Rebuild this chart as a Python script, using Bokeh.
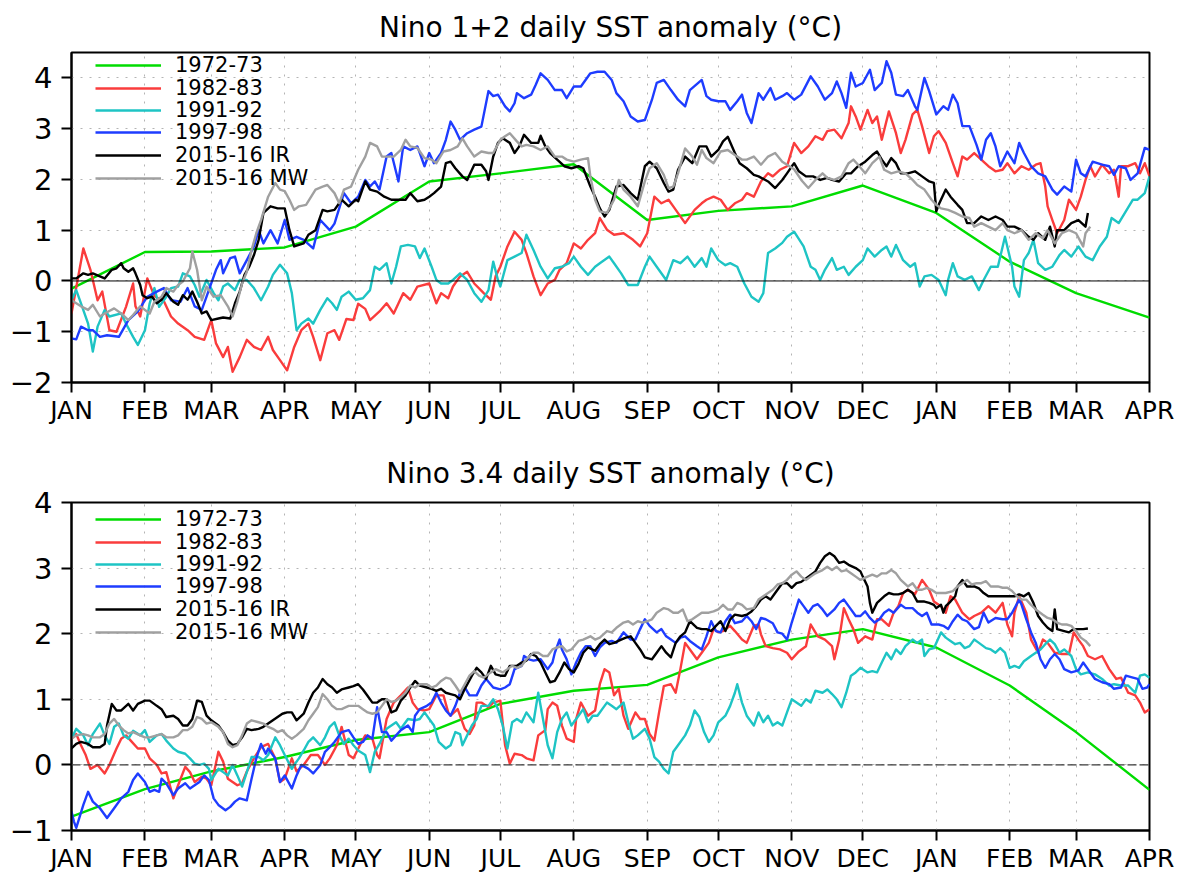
from bokeh.plotting import figure
from bokeh.models import (ColumnDataSource, FixedTicker, Span, Legend, LegendItem, Range1d)
from bokeh.layouts import column
from bokeh.embed import file_html
from bokeh.resources import INLINE

# ---------------- axis data ----------------
MONTH_DAYS = [0, 31, 59, 90, 120, 151, 181, 212, 243, 273, 304, 334, 365, 396, 424, 455]
MONTH_LABELS = ["JAN", "FEB", "MAR", "APR", "MAY", "JUN", "JUL", "AUG", "SEP", "OCT",
                "NOV", "DEC", "JAN", "FEB", "MAR", "APR"]
SERIES_NAMES = ["1972-73", "1982-83", "1991-92", "1997-98", "2015-16 IR", "2015-16 MW"]
SERIES_COLORS = ["#00dc00", "#fa3c3c", "#1ec4c4", "#1e3cff", "#000000", "#a0a0a0"]

TITLE_12 = "Nino 1+2 daily SST anomaly (°C)"
TITLE_34 = "Nino 3.4 daily SST anomaly (°C)"

# ---------------- Nino 1+2 (day since Jan 1, anomaly) ----------------
N12_1972 = [(0, -0.15), (31, 0.57), (59, 0.58), (90, 0.66), (120, 1.07), (151, 1.96), (181, 2.12),
            (212, 2.30), (243, 1.20), (273, 1.38), (304, 1.47), (334, 1.88), (365, 1.34), (396, 0.38),
            (424, -0.24), (455, -0.72)]
N12_1982 = [(0,-0.64),(5,0.64),(8,0.22),(11,-0.38),(13,-0.21),(16,-0.97),(19,-1.0),(23,-0.51),(26,-0.05),
            (27,-0.5),(29,-0.7),(32,0.05),(35,-0.3),(39,-0.4),(42,-0.7),(45,-0.84),(49,-0.97),(52,-1.1),
            (56,-1.16),(59,-0.77),(61,-1.23),(64,-1.5),(66,-1.3),(68,-1.79),(71,-1.5),(74,-1.16),(77,-1.3),
            (80,-1.36),(83,-1.1),(85,-1.36),(88,-1.56),(91,-1.76),(94,-1.3),(97,-0.97),(100,-0.84),(102,-1.1),
            (105,-1.56),(108,-1.03),(111,-0.97),(113,-1.16),(116,-0.75),(119,-0.77),(121,-0.45),(124,-0.55),
            (126,-0.77),(130,-0.6),(133,-0.44),(136,-0.64),(140,-0.24),(143,-0.37),(146,-0.11),(151,-0.05),
            (154,-0.44),(156,-0.24),(159,-0.34),(161,-0.11),(164,0.09),(167,0.18),(170,-0.05),(174,-0.24),
            (177,-0.37),(179,0.09),(181,0.28),(184,0.68),(187,0.97),(190,0.81),(192,0.55),(195,0.09),
            (198,-0.28),(201,-0.05),(204,0.02),(206,0.22),(209,0.35),(212,0.74),(215,0.64),(218,0.81),
            (221,0.94),(223,1.24),(226,1.01),(229,0.91),(233,0.94),(237,0.81),(240,0.68),(243,0.94),
            (246,1.66),(249,1.53),(252,1.6),(254,1.47),(259,1.14),(263,1.4),(266,1.53),(268,1.6),(271,1.66),
            (274,1.6),(277,1.4),(280,1.53),(283,1.6),(285,1.73),(288,1.66),(291,1.96),(294,2.12),(296,2.06),
            (299,2.19),(302,2.26),(305,2.72),(308,2.52),(311,2.65),(314,2.85),(317,2.78),(319,2.95),
            (322,2.98),(325,2.81),(328,3.11),(329,3.44),(331,3.24),(333,2.98),(336,3.37),(338,3.11),
            (340,3.24),(342,2.78),(345,3.34),(348,2.91),(350,2.52),(352,2.78),(355,3.28),(357,3.37),
            (359,3.05),(362,2.52),(364,2.85),(366,2.95),(369,2.72),(372,2.32),(374,2.06),(376,2.45),
            (378,2.39),(381,2.52),(384,2.39),(387,2.26),(390,2.16),(393,2.19),(395,2.32),(398,2.12),
            (401,2.26),(404,2.19),(407,2.29),(409,2.32),(411,1.86),(412,1.47),(414,1.2),(416,0.94),
            (419,1.2),(421,1.6),(424,1.4),(426,1.66),(428,1.99),(430,2.26),(432,2.06),(435,2.29),(438,2.12),
            (440,2.19),(442,1.66),(443,2.26),(446,2.26),(449,2.32),(451,2.12),(453,2.32),(455,2.06)]
N12_1991 = [(0,-0.38),(2,-0.18),(4,-0.44),(7,-0.84),(9,-1.39),(11,-0.9),(14,-0.57),(16,-0.7),(21,-0.64),
            (23,-0.84),(26,-1.1),(28,-1.26),(31,-0.97),(33,-0.44),(35,-0.14),(37,-0.51),(40,-0.31),(42,-0.14),
            (45,-0.11),(47,0.15),(50,0.09),(52,-0.08),(54,-0.31),(57,0.02),(60,-0.24),(62,-0.38),(64,-0.11),
            (66,-0.05),(69,-0.18),(71,0.02),(74,0.02),(77,-0.14),(80,-0.38),(83,-0.11),(85,0.12),(88,0.32),
            (91,0.15),(93,-0.24),(95,-0.97),(97,-0.84),(100,-0.74),(102,-0.84),(105,-0.57),(108,-0.34),
            (110,-0.44),(112,-0.57),(114,-0.31),(117,-0.21),(120,-0.37),(123,-0.34),(126,-0.18),(128,0.28),
            (130,0.22),(133,0.35),(135,-0.05),(137,0.28),(139,0.68),(142,0.71),(145,0.68),(147,0.45),
            (149,0.64),(152,0.28),(154,0.02),(156,-0.05),(159,-0.05),(161,0.02),(164,0.15),(167,0.02),
            (170,-0.24),(173,-0.41),(176,-0.18),(178,0.38),(180,0.02),(181,-0.11),(184,0.41),(187,0.48),
            (190,0.55),(192,0.91),(195,0.61),(198,0.28),(201,0.05),(204,0.25),(207,0.28),(210,0.35),
            (212,0.48),(215,0.28),(218,0.12),(221,0.28),(223,0.35),(227,0.48),(229,0.35),(232,0.15),
            (235,-0.08),(239,-0.08),(242,0.28),(244,0.48),(247,0.28),(251,0.02),(254,0.41),(257,0.35),
            (260,0.48),(263,0.28),(266,0.45),(268,0.28),(270,0.64),(273,0.41),(276,0.31),(278,0.35),
            (281,0.28),(284,-0.05),(287,-0.31),(290,-0.41),(292,-0.24),(294,0.55),(297,0.64),(300,0.75),
            (302,0.87),(305,0.97),(309,0.68),(312,0.28),(314,0.22),(316,0.02),(318,0.22),(321,0.45),
            (323,0.22),(326,0.28),(328,0.12),(331,0.28),(334,0.41),(336,0.64),(339,0.48),(342,0.61),
            (344,0.68),(346,0.48),(348,0.71),(351,0.41),(354,0.28),(356,0.35),(358,-0.11),(360,0.09),
            (363,0.12),(366,0.02),(369,-0.28),(370,0.02),(372,0.35),(374,0.09),(377,0.02),(380,0.09),
            (383,-0.18),(385,0.02),(388,0.28),(391,0.28),(394,0.87),(397,0.28),(398,-0.11),(400,-0.31),
            (402,0.41),(404,0.55),(406,0.81),(408,0.35),(411,0.22),(414,0.28),(417,0.51),(419,0.61),
            (422,0.48),(425,0.68),(428,0.48),(431,0.41),(434,0.68),(437,0.87),(439,1.24),(442,1.14),
            (445,1.37),(448,1.6),(450,1.6),(453,1.73),(455,2.06)]
N12_1997 = [(0,-1.13),(2,-1.15),(4,-0.9),(7,-0.97),(9,-0.97),(12,-1.1),(15,-1.07),(20,-1.1),(24,-0.77),
            (28,-0.6),(32,-0.31),(36,-0.21),(39,-0.14),(42,-0.38),(46,-0.41),(49,-0.14),(52,-0.5),(55,-0.57),
            (57,-0.31),(61,0.22),(63,0.41),(64,0.15),(67,0.45),(69,0.48),(71,0.15),(74,0.41),(77,0.68),
            (79,1.0),(81,0.74),(84,1.0),(87,0.74),(90,1.2),(92,0.81),(95,0.87),(98,0.81),(102,0.64),(105,1.2),
            (109,1.0),(111,1.13),(115,1.73),(118,1.53),(121,1.66),(124,1.99),(126,1.86),(128,1.96),(130,1.8),
            (133,2.45),(135,2.52),(138,1.96),(140,2.65),(143,2.58),(146,2.65),(149,2.26),(151,2.52),
            (153,2.32),(156,2.52),(158,2.78),(160,3.14),(162,2.98),(164,2.78),(167,2.91),(170,2.98),
            (173,3.04),(176,3.74),(178,3.64),(180,3.67),(183,3.44),(185,3.34),(187,3.5),(188,3.7),(191,3.6),
            (194,3.67),(196,3.87),(198,4.09),(201,3.96),(204,3.76),(207,3.76),(209,3.6),(212,3.83),
            (215,3.83),(219,4.09),(222,4.12),(225,4.12),(228,3.96),(230,3.7),(233,3.54),(236,3.24),
            (239,3.14),(242,3.17),(245,3.57),(247,3.9),(250,3.96),(253,3.76),(256,3.57),(259,3.44),
            (261,3.76),(266,3.96),(268,3.64),(270,3.57),(273,3.54),(276,3.54),(278,3.37),(281,3.54),
            (283,3.67),(285,3.31),(287,3.11),(290,3.7),(292,3.57),(295,3.8),(297,3.57),(300,3.64),
            (302,3.7),(305,3.57),(308,3.67),(312,4.03),(315,3.83),(318,3.57),(321,3.7),(323,3.93),(325,3.7),
            (327,3.41),(329,4.1),(331,3.83),(334,3.9),(337,4.16),(339,3.76),(342,3.9),(344,4.33),(346,4.1),
            (348,3.67),(351,3.64),(353,3.76),(356,3.44),(357,3.37),(360,4.0),(362,3.74),(365,3.28),
            (368,3.44),(370,3.37),(372,3.67),(374,3.5),(376,3.05),(379,3.05),(382,2.68),(384,2.39),
            (386,2.78),(388,2.91),(390,2.65),(392,2.26),(395,2.55),(398,2.32),(400,2.72),(402,2.52),
            (405,2.26),(408,2.12),(411,2.06),(414,1.8),(416,1.7),(419,1.86),(422,1.76),(424,2.39),
            (426,2.12),(428,2.06),(431,2.35),(435,2.29),(438,2.26),(440,2.09),(442,2.26),(445,2.22),
            (447,1.99),(450,2.12),(453,2.62),(455,2.58)]
N12_2015_IR = [(0,0.05),(2,0.05),(5,0.15),(7,0.12),(9,0.15),(12,0.09),(14,0.05),(17,0.22),(19,0.25),
            (21,0.35),(22,0.25),(24,0.18),(26,0.25),(27,0.15),(29,-0.08),(30,-0.28),(32,-0.34),(34,-0.31),
            (36,-0.44),(38,-0.37),(40,-0.24),(43,-0.41),(45,-0.47),(47,-0.28),(49,-0.37),(51,-0.21),
            (53,-0.41),(55,-0.64),(57,-0.6),(59,-0.77),(62,-0.74),(64,-0.72),(67,-0.74),(69,-0.44),
            (71,-0.21),(73,0.12),(75,0.28),(77,0.51),(79,0.81),(81,1.34),(84,1.47),(87,1.43),(90,1.43),
            (92,1.0),(94,0.68),(96,0.71),(98,0.74),(100,0.91),(103,1.0),(106,1.4),(108,1.37),(111,1.4),
            (114,1.6),(117,1.47),(120,1.6),(121,1.57),(124,1.96),(126,1.8),(129,1.76),(132,1.66),(135,1.6),
            (138,1.6),(141,1.6),(143,1.73),(146,1.57),(149,1.6),(151,1.66),(153,1.73),(156,1.86),(158,2.32),
            (160,2.35),(162,2.22),(165,2.06),(167,1.99),(170,2.29),(173,2.29),(175,2.16),(176,1.99),
            (178,2.45),(180,2.72),(182,2.81),(185,2.72),(187,2.52),(189,2.65),(191,2.88),(194,2.72),
            (197,2.72),(198,2.86),(200,2.65),(202,2.52),(205,2.39),(208,2.26),(211,2.22),(214,2.26),
            (216,2.22),(219,1.86),(221,1.66),(223,1.43),(225,1.27),(227,1.4),(230,1.86),(233,1.89),
            (236,1.73),(239,1.6),(242,2.26),(244,2.35),(247,2.22),(250,1.93),(252,1.76),(254,1.8),
            (256,2.19),(259,2.45),(262,2.32),(265,2.65),(268,2.65),(270,2.45),(273,2.58),(275,2.75),
            (277,2.84),(280,2.52),(282,2.32),(285,2.22),(288,2.09),(290,2.06),(294,1.96),(297,1.83),
            (300,1.99),(302,2.12),(305,2.32),(307,2.16),(310,2.06),(313,2.06),(316,1.99),(319,2.03),
            (321,1.99),(324,1.96),(327,2.12),(329,2.12),(332,2.26),(335,2.35),(338,2.48),(340,2.55),
            (342,2.39),(344,2.26),(346,2.42),(348,2.32),(350,2.12),(353,2.12),(356,2.16),(359,2.06),
            (362,1.96),(364,1.93),(365,1.37),(366,1.5),(369,1.8),(371,1.66),(374,1.5),(376,1.4),(378,1.14),
            (381,1.14),(384,1.27),(387,1.2),(390,1.27),(393,1.2),(395,1.07),(398,1.07),(401,1.0),(404,0.87),
            (406,0.81),(408,0.94),(411,0.81),(413,1.07),(415,0.68),(416,1.0),(419,1.0),(422,1.14),(425,1.2),
            (428,1.07),(429,1.34)]
N12_2015_MW = [(0,-0.38),(4,-0.5),(7,-0.57),(9,-0.47),(12,-0.7),(14,-0.64),(18,-0.54),(21,-0.64),
            (24,-0.77),(26,-0.67),(29,-0.5),(33,-0.64),(35,-0.41),(38,-0.31),(40,-0.14),(43,-0.21),(45,-0.08),
            (47,-0.01),(50,0.25),(51,0.58),(53,0.22),(55,-0.38),(57,-0.11),(60,-0.31),(63,-0.28),(66,-0.5),
            (68,-0.7),(70,-0.41),(72,-0.05),(74,0.18),(76,0.61),(78,0.94),(80,1.2),(83,1.66),(86,1.93),
            (88,1.8),(90,1.77),(92,1.6),(94,1.4),(96,1.47),(99,1.5),(103,1.8),(106,1.86),(108,1.89),
            (111,1.73),(113,1.53),(115,1.8),(118,1.86),(121,2.19),(124,2.45),(126,2.72),(129,2.65),
            (131,2.45),(133,2.45),(136,2.45),(139,2.58),(141,2.78),(143,2.65),(146,2.62),(149,2.42),
            (152,2.39),(154,2.32),(157,2.55),(160,2.58),(163,2.65),(165,2.81),(167,2.65),(170,2.45),
            (173,2.55),(176,2.52),(178,2.52),(181,2.78),(183,2.85),(185,2.91),(188,2.75),(190,2.65),
            (192,2.68),(195,2.65),(198,2.58),(201,2.65),(204,2.45),(207,2.45),(209,2.39),(212,2.35),
            (215,2.39),(218,2.42),(219,2.06),(221,1.6),(223,1.37),(226,1.34),(229,1.6),(231,1.99),(233,1.8),
            (236,1.66),(239,1.47),(242,1.96),(244,2.22),(247,2.32),(250,2.09),(252,1.83),(254,1.86),
            (256,2.12),(259,2.61),(262,2.45),(264,2.29),(266,2.58),(268,2.42),(271,2.32),(274,2.55),
            (277,2.58),(280,2.48),(283,2.39),(285,2.39),(288,2.45),(291,2.29),(294,2.45),(297,2.52),
            (300,2.35),(303,2.26),(305,2.2),(308,1.99),(311,1.83),(314,1.99),(317,2.12),(319,2.03),
            (322,1.99),(325,2.06),(328,2.32),(330,2.39),(332,2.29),(335,2.12),(338,2.32),(341,2.45),
            (343,2.19),(346,2.12),(349,2.16),(352,2.12),(355,1.99),(357,1.89),(360,1.8),(363,1.6),(365,1.5),
            (367,1.43),(370,1.4),(373,1.34),(376,1.27),(379,1.24),(381,1.07),(384,1.14),(387,1.07),
            (390,1.0),(393,1.14),(395,1.0),(398,0.94),(401,1.0),(404,0.81),(407,0.94),(410,0.84),(412,1.0),
            (415,0.74),(418,0.94),(421,1.0),(424,0.94),(427,0.68),(428,0.94),(430,1.07)]

# ---------------- Nino 3.4 (day since Jan 1, anomaly) ----------------
N34_1972 = [(0, -0.79), (31, -0.37), (59, -0.10), (90, 0.12), (120, 0.38), (151, 0.50), (181, 0.93),
            (212, 1.13), (243, 1.22), (273, 1.64), (304, 1.91), (334, 2.07), (365, 1.79), (396, 1.21),
            (424, 0.50), (455, -0.38)]
N34_1982 = [(0,0.4),(2,0.47),(4,0.3),(6,0.15),(8,-0.06),(11,0.0),(14,-0.13),(16,0.0),(19,0.25),(21,0.4),
            (23,0.45),(25,0.37),(28,0.25),(31,0.25),(33,0.1),(36,0.0),(38,-0.13),(40,-0.11),(43,-0.51),
            (45,-0.31),(48,-0.03),(50,-0.11),(52,-0.26),(55,-0.18),(57,-0.21),(59,-0.31),(62,0.2),(64,0.05),
            (66,-0.21),(68,-0.26),(70,-0.31),(72,-0.28),(74,-0.1),(77,0.1),(80,0.27),(83,0.32),(86,0.1),
            (88,-0.26),(90,-0.21),(93,0.1),(95,-0.1),(98,0.0),(101,0.15),(104,0.15),(107,0.0),(109,0.1),
            (112,0.3),(114,0.58),(117,0.15),(119,0.1),(122,0.32),(124,0.45),(127,0.4),(129,0.15),(130,0.1),
            (133,0.7),(136,0.95),(139,1.06),(142,1.18),(144,0.95),(146,0.85),(149,0.83),(151,0.85),
            (154,1.06),(157,1.06),(159,0.8),(160,0.75),(163,0.85),(166,0.55),(168,0.47),(170,0.6),(171,0.95),
            (173,0.95),(176,0.88),(178,0.95),(181,0.98),(183,0.3),(185,0.02),(187,0.17),(190,0.15),
            (192,0.1),(195,0.07),(197,0.45),(200,0.53),(201,0.85),(203,0.95),(205,0.9),(207,0.6),(209,0.4),
            (212,0.35),(213,0.7),(215,0.95),(218,0.75),(221,0.83),(223,1.23),(225,1.46),(227,1.41),
            (229,1.06),(231,1.16),(233,0.75),(235,0.55),(238,0.8),(240,0.7),(242,0.7),(244,0.47),(246,0.37),
            (248,0.8),(250,1.2),(253,1.23),(255,1.1),(257,1.46),(259,1.86),(262,1.71),(264,1.61),(266,1.71),
            (269,1.86),(271,2.07),(273,2.02),(275,2.04),(278,2.12),(280,2.04),(283,1.91),(285,1.86),
            (288,2.12),(290,2.14),(291,1.99),(293,1.81),(296,1.78),(299,1.76),(302,1.71),(304,1.61),
            (307,1.73),(310,1.81),(312,2.14),(315,1.96),(318,1.91),(321,1.81),(322,1.61),(324,1.91),
            (326,2.39),(328,2.22),(330,2.07),(332,1.86),(335,1.96),(338,1.91),(340,2.22),(342,2.22),
            (345,2.12),(347,2.32),(349,2.42),(351,2.62),(353,2.67),(356,2.6),(359,2.82),(362,2.67),
            (364,2.49),(367,2.42),(369,2.32),(371,2.57),(373,2.52),(376,2.32),(379,2.22),(381,2.27),
            (384,2.32),(387,2.42),(390,2.32),(393,2.47),(395,2.14),(397,1.96),(398,2.32),(400,2.57),
            (403,2.32),(405,1.91),(408,1.71),(410,1.91),(412,1.86),(415,1.71),(418,1.69),(421,1.69),
            (423,2.02),(425,1.91),(427,1.81),(429,1.66),(432,1.61),(435,1.66),(438,1.46),(441,1.31),
            (443,1.33),(446,1.1),(449,1.06),(451,0.95),(453,0.8),(455,0.85)]
N34_1991 = [(0,0.4),(2,0.55),(5,0.45),(7,0.3),(9,0.47),(12,0.63),(14,0.45),(16,0.32),(18,0.58),(20,0.63),
            (22,0.45),(24,0.4),(26,0.52),(29,0.45),(31,0.53),(33,0.35),(36,0.45),(38,0.47),(40,0.37),
            (43,0.25),(45,0.2),(48,0.17),(50,0.1),(52,0.02),(54,0.0),(56,0.02),(58,-0.06),(59,-0.23),
            (62,-0.06),(64,-0.11),(66,-0.16),(68,0.0),(70,-0.16),(72,-0.33),(74,-0.11),(76,0.12),(79,0.12),
            (81,0.07),(83,0.15),(86,0.42),(88,0.3),(90,0.15),(93,-0.06),(94,0.0),(96,0.1),(98,0.22),
            (100,0.35),(102,0.42),(105,0.3),(107,0.42),(109,0.58),(111,0.65),(113,0.45),(115,0.32),
            (117,0.4),(119,0.3),(121,0.22),(124,0.15),(126,-0.11),(128,0.2),(130,0.32),(133,0.55),
            (135,0.6),(137,0.65),(139,0.55),(142,0.7),(145,0.68),(147,0.7),(149,0.8),(151,0.7),(153,0.6),
            (155,0.35),(158,0.25),(160,0.3),(162,0.5),(164,0.47),(165,0.3),(167,0.45),(169,0.6),(171,0.7),
            (173,0.9),(176,0.9),(178,1.0),(180,0.85),(182,0.6),(184,0.25),(186,0.65),(188,0.7),(190,0.65),
            (192,0.8),(195,0.65),(197,1.1),(199,0.7),(201,0.3),(203,0.1),(205,0.5),(207,0.7),(209,0.8),
            (211,0.6),(214,0.75),(216,0.85),(218,0.65),(220,0.75),(222,0.75),(224,0.85),(226,0.95),
            (228,0.9),(230,0.85),(233,0.95),(235,0.65),(237,0.4),(239,0.45),(242,0.55),(244,0.4),(246,0.12),
            (248,0.05),(250,-0.06),(252,-0.13),(254,0.2),(257,0.35),(259,0.45),(261,0.6),(263,0.83),
            (265,0.73),(267,0.5),(269,0.35),(271,0.45),(273,0.65),(276,0.75),(278,0.9),(280,1.1),(281,1.23),
            (283,0.95),(285,0.75),(288,0.6),(290,0.8),(292,0.65),(294,0.75),(296,0.6),(298,0.65),(300,0.6),
            (302,0.8),(304,1.0),(306,0.95),(308,0.9),(310,1.0),(312,0.95),(314,1.13),(317,1.1),(319,1.15),
            (321,1.08),(323,1.0),(325,0.88),(327,1.1),(329,1.36),(331,1.41),(333,1.48),(336,1.41),
            (338,1.43),(340,1.41),(342,1.56),(344,1.71),(346,1.61),(348,1.76),(350,1.69),(352,1.81),
            (355,1.91),(357,1.86),(359,1.91),(360,1.66),(362,1.76),(364,1.78),(367,2.02),(369,1.94),
            (371,1.89),(373,1.84),(375,1.86),(377,1.78),(379,1.81),(381,1.91),(383,1.86),(386,1.78),
            (388,1.76),(390,1.71),(392,1.78),(394,1.71),(396,1.48),(398,1.51),(400,1.48),(402,1.58),
            (405,1.66),(407,1.71),(409,1.76),(411,1.84),(413,1.91),(415,1.84),(417,1.71),(419,1.76),
            (422,1.66),(424,1.46),(426,1.38),(429,1.41),(432,1.38),(435,1.31),(438,1.21),(440,1.23),
            (443,1.21),(446,1.21),(449,1.1),(451,1.36),(453,1.38),(455,1.33)]
N34_1997 = [(0,-0.71),(1,-0.86),(2,-0.96),(5,-0.61),(7,-0.41),(9,-0.56),(12,-0.66),(15,-0.81),(18,-0.66),
            (21,-0.51),(24,-0.41),(26,-0.23),(28,-0.13),(31,-0.26),(33,-0.41),(35,-0.38),(37,-0.41),
            (38,-0.21),(40,-0.28),(43,-0.46),(45,-0.36),(48,-0.28),(50,-0.36),(52,-0.31),(54,-0.26),
            (56,-0.16),(58,-0.23),(60,-0.51),(62,-0.61),(65,-0.69),(67,-0.64),(69,-0.56),(71,-0.51),
            (74,-0.54),(76,-0.21),(78,0.1),(80,0.32),(82,0.17),(83,0.25),(86,0.1),(88,-0.26),(90,-0.16),
            (93,-0.36),(95,-0.16),(97,0.0),(100,-0.06),(102,-0.13),(105,0.0),(107,0.2),(109,0.27),(111,0.35),
            (114,0.5),(117,0.53),(119,0.42),(121,0.32),(123,0.35),(125,0.45),(127,0.4),(129,0.88),(131,0.5),
            (133,0.5),(135,0.37),(137,0.45),(139,0.53),(142,0.6),(144,0.5),(145,0.75),(147,0.85),(150,0.9),
            (152,0.95),(154,1.1),(156,0.95),(158,0.83),(160,0.75),(162,0.9),(164,1.1),(166,1.18),(168,1.06),
            (171,1.06),(173,1.21),(175,1.31),(178,1.18),(181,1.15),(183,1.18),(185,1.23),(187,1.46),
            (190,1.51),(191,1.66),(193,1.61),(195,1.59),(198,1.61),(201,1.46),(203,1.56),(204,1.71),
            (206,1.91),(207,1.76),(209,1.61),(211,1.38),(213,1.56),(215,1.71),(217,1.81),(219,1.81),
            (221,1.66),(223,1.79),(225,1.86),(228,1.89),(230,1.86),(233,2.02),(236,1.91),(238,1.91),
            (240,2.07),(242,2.22),(244,2.12),(247,2.02),(249,2.07),(251,1.96),(253,1.91),(255,1.86),
            (257,1.94),(259,1.96),(261,1.89),(264,1.81),(266,1.76),(268,1.96),(270,2.19),(272,2.04),
            (274,2.02),(276,2.19),(278,2.29),(280,2.16),(283,2.19),(285,2.27),(287,2.19),(289,2.07),
            (291,2.24),(293,2.22),(296,2.16),(298,2.02),(300,2.0),(302,1.91),(304,2.17),(307,2.52),
            (309,2.42),(311,2.32),(313,2.42),(315,2.45),(317,2.37),(319,2.27),(322,2.37),(324,2.47),
            (326,2.52),(328,2.42),(331,2.27),(333,2.27),(335,2.34),(337,2.24),(339,2.17),(341,2.22),
            (343,2.32),(345,2.37),(347,2.32),(350,2.44),(352,2.39),(355,2.39),(357,2.32),(359,2.27),
            (361,2.32),(363,2.14),(366,2.14),(368,2.12),(370,2.07),(372,2.19),(374,2.29),(376,2.22),
            (378,2.19),(381,2.07),(383,2.1),(385,2.32),(387,2.17),(390,2.24),(393,2.22),(395,2.22),
            (397,2.32),(400,2.52),(401,2.44),(403,2.22),(405,2.02),(407,1.86),(409,1.61),(411,1.48),
            (413,1.61),(415,1.69),(417,1.61),(419,1.46),(422,1.41),(425,1.44),(427,1.56),(429,1.46),
            (432,1.31),(435,1.26),(438,1.23),(440,1.16),(443,1.18),(445,1.36),(448,1.33),(450,1.31),
            (452,1.16),(454,1.18),(455,1.23)]
N34_2015_IR = [(0,0.25),(2,0.32),(4,0.35),(7,0.32),(9,0.27),(12,0.27),(14,0.32),(15,0.6),(17,0.93),
            (19,0.83),(21,0.83),(24,0.93),(26,0.83),(28,0.93),(31,0.98),(33,0.98),(36,0.9),(38,0.85),
            (40,0.73),(43,0.75),(45,0.7),(47,0.6),(49,0.6),(51,0.7),(53,0.98),(55,0.96),(57,0.75),(59,0.68),
            (62,0.6),(64,0.5),(66,0.37),(68,0.3),(70,0.32),(72,0.42),(74,0.55),(76,0.53),(79,0.55),(81,0.58),
            (83,0.63),(85,0.68),(87,0.73),(89,0.78),(91,0.8),(93,0.8),(95,0.68),(98,0.78),(100,0.95),
            (102,1.1),(104,1.18),(106,1.31),(108,1.23),(110,1.18),(112,1.1),(114,1.15),(117,1.18),(119,1.2),
            (121,1.23),(123,1.15),(125,1.05),(127,0.95),(129,0.95),(131,1.0),(133,1.0),(135,0.8),(137,0.83),
            (139,0.98),(141,1.06),(143,1.18),(145,1.28),(147,1.21),(150,1.18),(152,1.16),(154,1.13),
            (156,1.16),(158,1.1),(160,1.08),(162,1.06),(164,1.0),(166,1.16),(169,1.36),(171,1.48),
            (173,1.41),(175,1.31),(177,1.51),(179,1.38),(181,1.36),(183,1.36),(185,1.51),(188,1.51),
            (190,1.56),(192,1.59),(194,1.69),(196,1.66),(198,1.56),(200,1.41),(202,1.26),(204,1.28),
            (206,1.41),(208,1.56),(210,1.46),(212,1.41),(214,1.54),(216,1.71),(218,1.79),(221,1.74),
            (223,1.84),(225,1.91),(227,1.84),(229,1.86),(232,1.91),(234,1.94),(236,1.96),(238,1.86),
            (240,1.76),(242,1.64),(245,1.61),(247,1.71),(249,1.81),(251,1.71),(253,1.64),(255,1.86),
            (257,1.96),(259,2.02),(261,2.19),(264,2.09),(266,2.07),(268,2.07),(270,2.04),(272,2.12),
            (274,2.19),(276,2.04),(278,2.22),(280,2.29),(283,2.27),(285,2.29),(287,2.34),(289,2.42),
            (291,2.52),(293,2.57),(295,2.52),(297,2.62),(300,2.77),(302,2.77),(304,2.7),(306,2.77),
            (308,2.79),(311,2.87),(314,2.95),(316,3.08),(318,3.18),(320,3.23),(322,3.18),(324,3.08),
            (326,3.1),(328,3.05),(331,3.0),(333,2.95),(334,2.87),(336,2.72),(337,2.47),(338,2.32),
            (340,2.47),(343,2.57),(345,2.62),(347,2.6),(349,2.6),(351,2.62),(353,2.67),(355,2.62),
            (357,2.49),(360,2.49),(362,2.47),(364,2.44),(365,2.39),(367,2.44),(368,2.32),(369,2.42),
            (371,2.49),(373,2.57),(374,2.72),(376,2.82),(378,2.72),(381,2.72),(383,2.69),(385,2.62),
            (387,2.57),(390,2.57),(393,2.57),(395,2.57),(398,2.57),(400,2.6),(402,2.57),(404,2.62),
            (406,2.47),(408,2.27),(410,2.17),(412,2.09),(414,2.04),(415,2.37),(416,2.07),(419,2.04),
            (421,2.02),(423,2.07),(425,2.07),(427,2.07),(429,2.08)]
N34_2015_MW = [(0,0.4),(2,0.45),(5,0.47),(7,0.45),(9,0.42),(12,0.42),(14,0.47),(16,0.63),(18,0.7),
            (20,0.6),(22,0.53),(24,0.48),(26,0.5),(29,0.45),(31,0.42),(33,0.42),(36,0.45),(38,0.47),(40,0.42),
            (43,0.42),(45,0.45),(47,0.53),(49,0.53),(51,0.58),(53,0.73),(55,0.7),(57,0.63),(59,0.65),
            (62,0.58),(64,0.5),(66,0.32),(68,0.27),(70,0.3),(72,0.45),(74,0.63),(76,0.68),(79,0.65),(81,0.63),
            (83,0.58),(85,0.55),(87,0.5),(89,0.53),(91,0.45),(93,0.4),(95,0.45),(98,0.55),(100,0.68),
            (102,0.78),(104,0.88),(106,1.08),(108,1.0),(110,0.9),(112,0.85),(114,0.85),(117,0.9),(119,0.9),
            (121,0.9),(123,0.85),(125,0.8),(127,0.78),(129,0.8),(131,0.9),(133,1.0),(135,0.96),(137,0.98),
            (139,1.03),(141,1.1),(143,1.21),(145,1.18),(147,1.23),(150,1.23),(152,1.18),(154,1.21),
            (156,1.28),(158,1.33),(160,1.31),(162,1.21),(164,1.1),(166,1.23),(168,1.36),(170,1.43),
            (172,1.36),(174,1.33),(177,1.41),(179,1.46),(182,1.41),(184,1.46),(186,1.51),(188,1.48),
            (190,1.51),(192,1.61),(195,1.71),(197,1.71),(199,1.66),(201,1.66),(203,1.76),(205,1.79),
            (207,1.81),(209,1.73),(211,1.76),(214,1.89),(216,1.91),(219,1.96),(221,1.91),(223,1.94),
            (226,2.04),(228,2.02),(230,2.09),(233,2.17),(235,2.19),(237,2.14),(239,2.19),(241,2.17),
            (243,2.19),(245,2.22),(247,2.32),(250,2.39),(252,2.37),(254,2.32),(256,2.32),(258,2.37),
            (260,2.19),(262,2.22),(264,2.27),(266,2.32),(269,2.32),(271,2.34),(273,2.37),(275,2.44),
            (277,2.37),(279,2.37),(281,2.47),(283,2.44),(285,2.37),(288,2.39),(290,2.52),(292,2.57),
            (294,2.62),(296,2.67),(298,2.75),(300,2.77),(302,2.82),(304,2.9),(306,2.95),(308,2.87),
            (310,2.82),(312,2.87),(314,2.92),(317,2.97),(319,3.02),(321,2.97),(323,3.02),(325,2.95),
            (327,2.97),(329,2.92),(331,2.87),(333,2.82),(336,2.87),(338,2.9),(340,2.87),(342,2.92),
            (344,2.92),(346,2.97),(348,2.92),(350,2.82),(353,2.72),(355,2.77),(357,2.67),(359,2.67),
            (361,2.7),(363,2.67),(365,2.62),(367,2.62),(369,2.62),(372,2.65),(374,2.72),(376,2.77),
            (378,2.82),(380,2.75),(382,2.77),(384,2.77),(386,2.8),(388,2.72),(391,2.72),(393,2.7),
            (395,2.7),(397,2.65),(399,2.57),(401,2.52),(403,2.52),(405,2.44),(407,2.37),(410,2.29),
            (412,2.24),(414,2.22),(416,2.17),(418,2.14),(420,2.14),(422,2.12),(424,2.04),(426,1.94),
            (428,1.89),(430,1.81)]

N12_SERIES = [N12_1972, N12_1982, N12_1991, N12_1997, N12_2015_IR, N12_2015_MW]
N34_SERIES = [N34_1972, N34_1982, N34_1991, N34_1997, N34_2015_IR, N34_2015_MW]

FONT = "DejaVu Sans"
GRID_COLOR = "#b4b4b4"
FRAME_H = 330          # plot-area height in px (both panels)
LEGEND_ROW_PITCH = 22.5
LEGEND_ITEM_H = 24


def make_panel(title, series, y0, y1, height, border_top, border_bottom, zero_dash,
               legend_first_row, title_standoff):
    p = figure(width=1181, height=height, x_range=Range1d(0, 455), y_range=Range1d(y0, y1),
               output_backend="svg", toolbar_location=None,
               min_border_left=71, min_border_right=32,
               min_border_top=border_top, min_border_bottom=border_bottom,
               background_fill_color="white", border_fill_color="white")
    p.outline_line_color = "black"
    p.outline_line_width = 2

    p.title.text = title
    p.title.text_font = FONT
    p.title.text_font_size = "28px"
    p.title.text_font_style = "normal"
    p.title.align = "center"
    p.title.text_color = "black"
    p.title.standoff = title_standoff

    xt = FixedTicker(ticks=MONTH_DAYS)
    p.xaxis.ticker = xt
    p.xaxis.major_label_overrides = {d: lab for d, lab in zip(MONTH_DAYS, MONTH_LABELS)}
    yt = FixedTicker(ticks=list(range(int(y0), int(y1) + 1)))
    p.yaxis.ticker = yt
    for ax in (p.xaxis, p.yaxis):
        ax.axis_line_width = 2
        ax.axis_line_color = "black"
        ax.major_tick_line_width = 2
        ax.major_tick_line_color = "black"
        ax.major_tick_out = 10
        ax.major_tick_in = 0
        ax.minor_tick_line_color = None
        ax.major_label_text_font = FONT
        ax.major_label_text_color = "black"
    p.xaxis.major_label_text_font_size = "25px"
    p.xaxis.major_label_standoff = 3
    p.yaxis.major_label_text_font_size = "29px"
    p.yaxis.major_label_standoff = 9

    p.xgrid.ticker = xt
    p.ygrid.ticker = yt
    for g in (p.xgrid, p.ygrid):
        g.grid_line_color = GRID_COLOR
        g.grid_line_dash = "2 7"
        g.grid_line_width = 1

    if zero_dash:
        p.add_layout(Span(location=0, dimension="width", line_color="#3a3a3a",
                          line_width=1.2, line_dash="9 3"))
    else:
        p.add_layout(Span(location=0, dimension="width", line_color="black", line_width=1))

    for i, (name, color, pts) in enumerate(zip(SERIES_NAMES, SERIES_COLORS, series)):
        src = ColumnDataSource(data=dict(day=[d for d, _ in pts], val=[v for _, v in pts]))
        r = p.line("day", "val", source=src, line_color=color, line_width=2.4,
                   line_join="round")
        # one legend entry per row so the row pitch can follow the original
        row_center = legend_first_row + LEGEND_ROW_PITCH * i
        vy = round(FRAME_H - (row_center - LEGEND_ITEM_H / 2) - LEGEND_ITEM_H)
        legend = Legend(items=[LegendItem(label=name, renderers=[r])], location=(24, vy),
                        glyph_width=66, glyph_height=20, label_height=20, spacing=0,
                        padding=0, margin=0, label_standoff=14,
                        border_line_alpha=0, background_fill_alpha=0,
                        label_text_font=FONT, label_text_font_size="21px",
                        label_text_color="black")
        p.add_layout(legend)
    return p


top = make_panel(TITLE_12, N12_SERIES, -2, 4.5, 440, 52, 58, False, 13, 17)
bottom = make_panel(TITLE_34, N34_SERIES, -1, 4, 435, 62, 43, True, 19, 25)

layout = column(top, bottom, spacing=0)
open("out.html", "w").write(file_html(layout, INLINE, title="Nino SST anomaly"))
